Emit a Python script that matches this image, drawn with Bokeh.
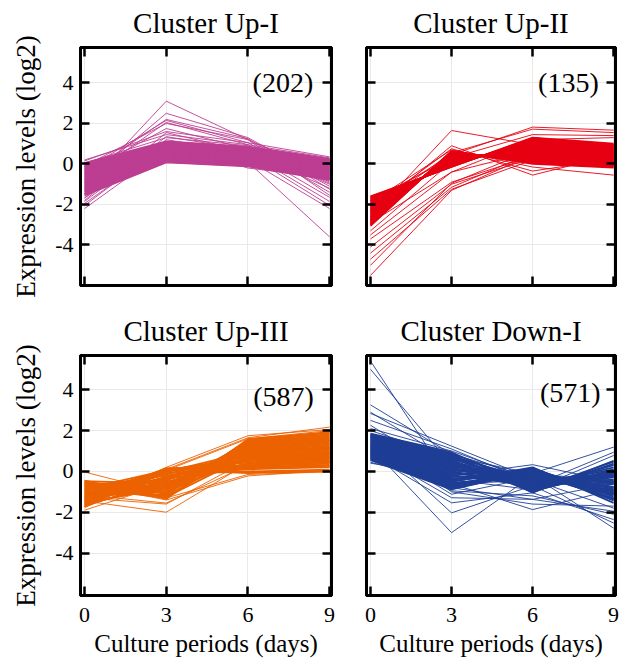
from bokeh.plotting import figure
from bokeh.models import Range1d, LinearAxis, FixedTicker, Label, ColumnDataSource, CustomLabelingPolicy
from bokeh.layouts import column, row
from bokeh.embed import file_html
from bokeh.resources import INLINE

FONT = "Liberation Serif"

days = [0, 3, 6, 9]
x_ticks = [0, 3, 6, 9]
y_ticks = [-4, -2, 0, 2, 4]
x_tick_labels = {0: "0", 3: "3", 6: "6", 9: "9"}
y_tick_labels = {-4: "-4", -2: "-2", 0: "0", 2: "2", 4: "4"}

titles = ["Cluster Up-I", "Cluster Up-II", "Cluster Up-III", "Cluster Down-I"]
counts = ["(202)", "(135)", "(587)", "(571)"]
colors = ["#BC3E92", "#E60012", "#EC6200", "#1E3E96"]

# number of lines in the dense core of each cluster (the rest are sparse outlying genes)
n_core = [40, 40, 40, 40]

# ---- Cluster Up-I (expression per gene line at day 0, 3, 6, 9) ----
up1_d0 = [-1.55, -1.49, -1.47, -1.41, -1.36, -1.34, -1.28, -1.24, -1.22, -1.16, -1.12, -1.10, -1.04, -1.00,
          -0.97, -0.92, -0.88, -0.86, -0.80, -0.76, -0.74, -0.68, -0.64, -0.62, -0.56, -0.52, -0.50, -0.44,
          -0.40, -0.38, -0.32, -0.28, -0.26, -0.20, -0.16, -0.14, -0.09, -0.05, -0.02, 0.04,
          0.20, 0.15, 0.05, -0.10, -0.30, -0.55, -0.75, -0.90, -1.20, -1.70, -1.85, -1.95, -2.20, -1.65,
          -1.80, -0.45, -2.05]
up1_d3 = [0.08, 0.10, 0.14, 0.15, 0.19, 0.21, 0.24, 0.26, 0.30, 0.31, 0.35, 0.37, 0.40, 0.42,
          0.45, 0.47, 0.50, 0.53, 0.55, 0.58, 0.60, 0.63, 0.65, 0.68, 0.70, 0.73, 0.75, 0.78,
          0.81, 0.83, 0.86, 0.88, 0.91, 0.94, 0.96, 0.99, 1.02, 1.04, 1.08, 1.12,
          1.45, 1.60, 1.30, 2.00, 2.15, 2.20, 2.05, 2.50, 3.10, 1.35, 1.20, 0.90, 0.70, 0.85,
          1.55, 1.75, 1.00]
up1_d6 = [-0.12, -0.09, -0.07, -0.04, -0.02, 0.01, 0.03, 0.06, 0.08, 0.11, 0.13, 0.16, 0.18, 0.21,
          0.23, 0.26, 0.28, 0.31, 0.33, 0.36, 0.38, 0.41, 0.43, 0.46, 0.48, 0.51, 0.53, 0.56,
          0.58, 0.61, 0.63, 0.66, 0.68, 0.71, 0.73, 0.76, 0.78, 0.81, 0.83, 0.86,
          0.95, 1.05, 0.90, 1.20, 1.05, 1.25, 0.95, 1.30, 1.20, 0.70, 0.55, 0.45, 0.20, 0.10,
          0.60, 0.75, -0.20]
up1_d9 = [-0.80, -0.77, -0.75, -0.72, -0.69, -0.67, -0.64, -0.61, -0.59, -0.56, -0.53, -0.51, -0.48, -0.45,
          -0.43, -0.40, -0.37, -0.35, -0.32, -0.29, -0.27, -0.24, -0.21, -0.19, -0.16, -0.13, -0.11, -0.08,
          -0.05, -0.03, 0.00, 0.03, 0.05, 0.08, 0.11, 0.13, 0.16, 0.19, 0.21, 0.25,
          0.30, 0.35, -0.95, -0.60, -1.10, -1.25, -1.40, -0.90, -1.55, -1.65, -1.85, -2.05, -2.20, -3.60,
          -1.20, -1.00, -0.70]

# ---- Cluster Up-II ----
up2_d0 = [-1.60, -1.64, -1.67, -1.71, -1.75, -1.79, -1.82, -1.86, -1.90, -1.93, -1.97, -2.01, -2.04, -2.08,
          -2.12, -2.15, -2.19, -2.23, -2.27, -2.30, -2.34, -2.38, -2.41, -2.45, -2.49, -2.52, -2.56, -2.60,
          -2.63, -2.67, -2.71, -2.74, -2.78, -2.82, -2.86, -2.89, -2.93, -2.97, -3.01, -3.05,
          -3.30, -3.50, -3.70, -4.10, -4.40, -4.70, -5.00, -5.50, -2.60, -2.40, -2.20, -1.90, -2.00, -2.30,
          -1.80, -2.90]
up2_d3 = [-0.15, -0.13, -0.11, -0.09, -0.07, -0.05, -0.03, -0.01, 0.01, 0.03, 0.05, 0.07, 0.09, 0.11,
          0.13, 0.16, 0.18, 0.20, 0.22, 0.24, 0.26, 0.28, 0.30, 0.32, 0.34, 0.36, 0.38, 0.40,
          0.42, 0.44, 0.46, 0.48, 0.50, 0.52, 0.54, 0.56, 0.58, 0.60, 0.62, 0.65,
          0.10, -0.40, -0.90, -1.00, -1.15, -1.25, -0.95, -1.30, 1.65, 0.90, 0.75, 0.70, 0.45, 0.55,
          0.30, -0.40]
up2_d6 = [1.30, 1.27, 1.23, 1.20, 1.17, 1.14, 1.10, 1.07, 1.04, 1.00, 0.97, 0.94, 0.91, 0.87,
          0.84, 0.81, 0.78, 0.74, 0.71, 0.68, 0.64, 0.61, 0.58, 0.55, 0.51, 0.48, 0.45, 0.42,
          0.38, 0.35, 0.32, 0.28, 0.25, 0.22, 0.19, 0.15, 0.12, 0.09, 0.05, 0.01,
          0.85, 0.60, 0.40, 0.30, 0.55, 0.20, 0.70, 0.45, 0.95, -0.55, -0.35, -0.15, 1.82, 1.72,
          1.45, 1.20]
up2_d9 = [1.00, 0.97, 0.94, 0.91, 0.88, 0.85, 0.82, 0.79, 0.76, 0.73, 0.70, 0.67, 0.64, 0.61,
          0.58, 0.55, 0.52, 0.49, 0.46, 0.43, 0.40, 0.37, 0.34, 0.31, 0.28, 0.25, 0.22, 0.19,
          0.16, 0.13, 0.10, 0.07, 0.04, 0.01, -0.02, -0.05, -0.08, -0.11, -0.14, -0.18,
          0.55, 0.35, 0.20, 0.10, 0.45, -0.05, 0.60, 0.30, 0.70, 0.45, 0.25, -0.55, 1.67, 1.55,
          1.40, 1.30]

# ---- Cluster Up-III ----
up3_d0 = [-0.45, -0.48, -0.52, -0.55, -0.58, -0.62, -0.65, -0.68, -0.72, -0.75, -0.78, -0.82, -0.85, -0.88,
          -0.92, -0.95, -0.98, -1.02, -1.05, -1.08, -1.12, -1.15, -1.18, -1.22, -1.25, -1.28, -1.32, -1.35,
          -1.38, -1.42, -1.45, -1.48, -1.52, -1.55, -1.58, -1.62, -1.65, -1.68, -1.72, -1.75,
          -0.03, -1.90, -1.45, -1.30, -1.15, -1.60, -1.70, -1.55, -0.60, -0.70]
up3_d3 = [-1.35, -0.60, -1.10, -0.80, -1.25, -0.50, -0.95, -1.20, -0.70, -1.05,
          -0.20, -1.30, 0.05, -0.85, -0.40, -1.15, -0.05, -0.65, -1.00, -0.30,
          0.10, -0.75, -0.15, -0.55, 0.00, -0.90, -0.35, 0.15, -0.62, -0.25,
          -0.10, -0.45, 0.12, -0.80, -0.28, 0.08, -0.58, -0.02, -0.38, 0.15,
          -1.05, -0.60, -2.00, -1.60, -1.55, 0.20, 0.10, 0.05, -1.40, -1.30]
up3_d6 = [1.58, 0.90, 1.30, 1.10, 0.75, 0.40, 1.45, 1.00, 0.60, 1.50,
          0.20, 1.20, 0.70, 0.85, 1.00, 1.55, -0.05, 1.25, 0.65, 0.50,
          0.10, 1.40, 0.85, 0.30, 0.45, 0.95, 0.15, 0.30, 1.05, 0.60,
          0.25, 1.15, 0.00, 1.35, 0.80, 0.55, 0.70, 0.95, 0.35, -0.08,
          1.10, 0.95, 0.40, 0.55, 0.30, 1.75, 1.65, 1.60, -0.22, -0.15]
up3_d9 = [1.92, 1.13, 1.60, 1.37, 0.96, 0.56, 1.77, 1.25, 0.79, 1.83,
          0.32, 1.48, 0.90, 1.08, 1.18, 1.89, 0.03, 1.54, 0.84, 0.67,
          0.21, 1.71, 1.02, 0.44, 0.61, 1.19, 0.27, 0.50, 1.31, 0.72,
          0.38, 1.42, 0.09, 1.65, 0.96, 0.73, 0.86, 1.12, 0.45, 0.00,
          1.30, 1.50, 0.70, 0.90, 0.65, 2.05, 2.17, 2.00, 0.05, -0.02]

# ---- Cluster Down-I ----
dn1_d0 = [1.85, 1.82, 1.78, 1.75, 1.72, 1.68, 1.65, 1.62, 1.58, 1.55, 1.52, 1.48, 1.45, 1.42,
          1.38, 1.35, 1.32, 1.28, 1.25, 1.22, 1.18, 1.15, 1.12, 1.08, 1.05, 1.02, 0.98, 0.95,
          0.92, 0.88, 0.85, 0.82, 0.78, 0.75, 0.72, 0.68, 0.65, 0.62, 0.58, 0.55,
          5.40, 5.00, 3.26, 2.90, 2.84, 2.50, 2.26, 2.00, 1.30, 1.00, 0.80, 1.60, 1.20, 0.45,
          0.90, 0.70, 1.10, 0.40, 2.10, 1.70]
dn1_d3 = [0.94, 0.85, 0.89, 0.80, 0.71, 0.75, 0.66, 0.57, 0.61, 0.52, 0.43, 0.47, 0.38, 0.29,
          0.33, 0.24, 0.15, 0.19, 0.10, 0.01, 0.05, -0.04, -0.13, -0.09, -0.18, -0.27, -0.23, -0.32,
          -0.41, -0.37, -0.46, -0.55, -0.51, -0.60, -0.69, -0.65, -0.74, -0.83, -0.79, -0.88,
          -0.60, 0.30, 0.85, 0.50, 1.24, 1.10, -0.20, 0.70, -1.12, -1.29, -1.54, -2.03, -3.00, -0.60,
          -0.80, -0.40, -0.95, -0.20, 1.00, -1.00]
dn1_d6 = [-0.85, -1.04, -0.63, -0.98, -0.40, -0.91, -0.75, -1.01, -0.53, -0.82, -0.21, -0.94, -0.66, -0.47,
          -0.88, -0.28, -0.72, -0.56, -0.09, -0.79, -0.34, -0.59, 0.04, -0.44, -0.69, -0.15, -0.50, -0.37,
          0.14, -0.24, -0.02, -0.31, 0.20, -0.12, -0.18, 0.07, 0.11, -0.05, 0.17, 0.01,
          -0.45, -0.20, -0.30, -0.60, -0.35, -0.55, -0.70, -0.10, -0.30, -1.37, -1.05, -0.70, -0.20, -1.87,
          -1.37, -0.90, -1.20, 0.33, -0.40, -1.60]
dn1_d9 = [-0.09, 0.52, 0.10, 0.08, -0.24, 0.48, -0.20, 0.38, -0.12, 0.31, -0.56, -0.04, -0.40, -0.17,
          0.06, -0.94, 0.20, -0.62, -0.76, -0.29, -0.54, -0.47, -1.02, -0.77, -0.25, -1.16, -0.07, -0.89,
          -1.24, -1.10, -1.07, -0.49, -1.54, -1.31, -0.61, -1.42, -1.09, -1.38, -1.34, -0.87,
          -0.80, -0.30, -1.00, -0.20, -0.90, -0.40, 0.94, 1.19, -1.00, -0.60, -2.36, -2.53, -2.78, -0.90,
          -1.95, 0.78, -2.10, -0.50, -1.80, -1.70]

series = [
    (up1_d0, up1_d3, up1_d6, up1_d9),
    (up2_d0, up2_d3, up2_d6, up2_d9),
    (up3_d0, up3_d3, up3_d6, up3_d9),
    (dn1_d0, dn1_d3, dn1_d6, dn1_d9),
]

count_pos = [(8.40, 4.00), (8.45, 4.00), (8.42, 3.65), (8.52, 3.85)]

HIDE_JS = """
const all = Array.from(indices)
for (const i of all) { indices.unset(i) }
return indices
"""


def style_axis(ax, ticks, overrides, show_labels, size_px):
    ax.ticker = FixedTicker(ticks=ticks)
    ax.major_label_overrides = overrides
    ax.major_tick_in = 9
    ax.major_tick_out = 0
    ax.major_tick_line_width = 2.5
    ax.major_tick_line_color = "black"
    ax.minor_tick_in = 0
    ax.minor_tick_out = 0
    ax.axis_line_color = "black"
    ax.axis_line_width = 3
    ax.major_label_text_font = FONT
    ax.major_label_text_color = "black"
    if show_labels:
        ax.major_label_text_font_size = size_px
    else:
        ax.major_label_text_font_size = "1px"
        ax.major_label_standoff = 0
        ax.major_label_policy = CustomLabelingPolicy(code=HIDE_JS)


def make_panel(i, y_rng, show_ylab, show_xlab, borders, fw, fh):
    ml, mr, mt, mb = borders
    p = figure(frame_width=fw, frame_height=fh,
               x_range=Range1d(-0.15, 9.07), y_range=Range1d(*y_rng),
               output_backend="svg", toolbar_location=None,
               min_border_left=ml, min_border_right=mr,
               min_border_top=mt, min_border_bottom=mb)
    p.background_fill_color = "white"
    p.border_fill_color = "white"
    p.outline_line_color = "black"
    p.outline_line_width = 3

    d0, d3, d6, d9 = series[i]
    ys = [[a, b, c, d] for a, b, c, d in zip(d0, d3, d6, d9)]
    xs = [days for _ in ys]
    n = n_core[i]
    core = ColumnDataSource(data=dict(xs=xs[:n], ys=ys[:n]))
    outl = ColumnDataSource(data=dict(xs=xs[n:], ys=ys[n:]))

    p.xgrid.ticker = FixedTicker(ticks=x_ticks)
    p.ygrid.ticker = FixedTicker(ticks=y_ticks)
    p.grid.grid_line_color = "#e9e9e9"
    p.grid.grid_line_width = 1

    p.multi_line(xs="xs", ys="ys", source=outl, line_color=colors[i], line_width=0.9)
    p.multi_line(xs="xs", ys="ys", source=core, line_color=colors[i], line_width=1.8)

    style_axis(p.xaxis[0], x_ticks, x_tick_labels, show_xlab, "22px")
    if show_xlab:
        p.xaxis[0].major_label_standoff = 12
    style_axis(p.yaxis[0], y_ticks, y_tick_labels, show_ylab, "22px")
    if show_ylab:
        p.yaxis[0].major_label_standoff = 7

    if show_ylab:
        p.yaxis[0].axis_label = "Expression levels (log2)"
        p.yaxis[0].axis_label_text_font = FONT
        p.yaxis[0].axis_label_text_font_size = "27px"
        p.yaxis[0].axis_label_text_font_style = "normal"
        p.yaxis[0].axis_label_text_color = "black"
        p.yaxis[0].axis_label_standoff = 11
    if show_xlab:
        p.xaxis[0].axis_label = "Culture periods (days)"
        p.xaxis[0].axis_label_text_font = FONT
        p.xaxis[0].axis_label_text_font_size = "25px"
        p.xaxis[0].axis_label_text_font_style = "normal"
        p.xaxis[0].axis_label_text_color = "black"
        p.xaxis[0].axis_label_standoff = 5

    top_ax = LinearAxis()
    style_axis(top_ax, x_ticks, x_tick_labels, False, "1px")
    p.add_layout(top_ax, "above")
    right_ax = LinearAxis()
    style_axis(right_ax, y_ticks, y_tick_labels, False, "1px")
    p.add_layout(right_ax, "right")

    p.title.text = titles[i]
    p.title.align = "center"
    p.title.text_font = FONT
    p.title.text_font_size = "29px"
    p.title.text_font_style = "normal"
    p.title.text_color = "black"
    p.title.standoff = 9

    cx, cy = count_pos[i]
    p.add_layout(Label(x=cx, y=cy, text=counts[i], text_align="right",
                       text_baseline="alphabetic", text_font=FONT,
                       text_font_size="28px", text_color="black"))
    return p


top_rng = (-6.0, 5.75)
bot_rng = (-6.08, 5.68)

p1 = make_panel(0, top_rng, True, False, (80, 17, 45, 20), 251, 238)
p2 = make_panel(1, top_rng, False, False, (18, 8, 45, 20), 249, 238)
p3 = make_panel(2, bot_rng, True, True, (80, 17, 50, 68), 251, 240)
p4 = make_panel(3, bot_rng, False, True, (18, 8, 50, 68), 249, 240)

layout = column(row(p1, p2), row(p3, p4))
open("out.html", "w").write(file_html(layout, INLINE))
